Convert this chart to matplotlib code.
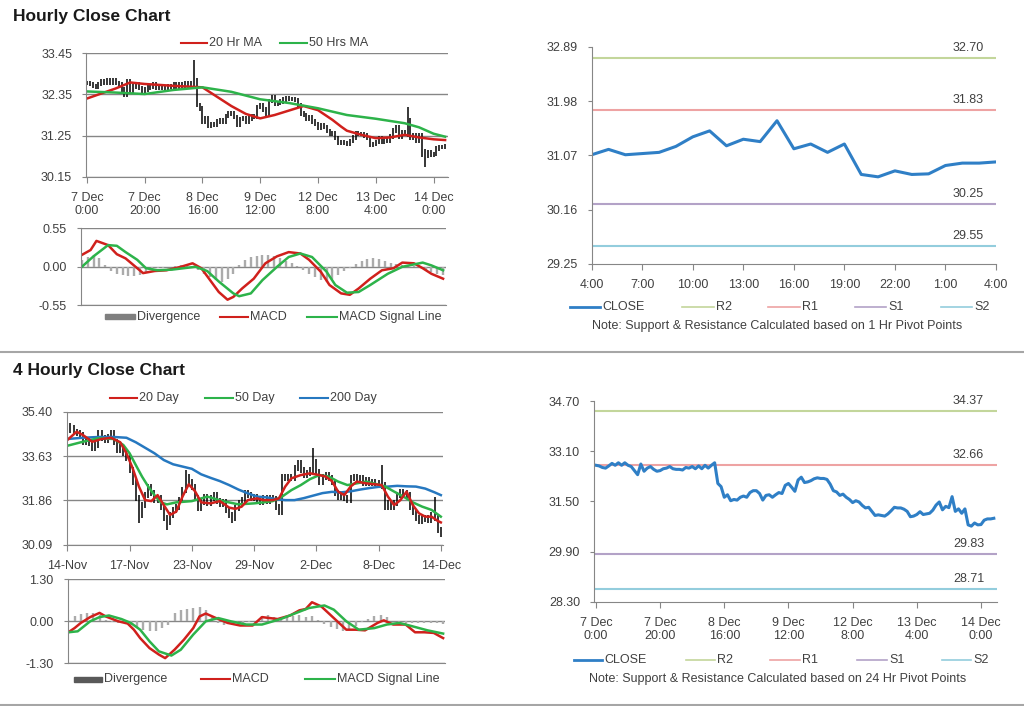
import matplotlib.pyplot as plt
import numpy as np
from matplotlib.lines import Line2D
from matplotlib.patches import Rectangle

plt.rcParams['font.family'] = ['Liberation Sans', 'DejaVu Sans']

# ---------------- data: hourly ----------------
hourly_close = [
    32.65, 32.63, 32.58, 32.56, 32.63, 32.71, 32.65, 32.73, 32.65, 32.73,
    32.65, 32.61, 32.48, 32.35, 32.69, 32.46, 32.56, 32.61, 32.52, 32.46,
    32.48, 32.54, 32.56, 32.61, 32.54, 32.52, 32.52, 32.50, 32.58, 32.56,
    32.61, 32.54, 32.63, 32.54, 32.65, 32.56, 32.65, 32.73, 32.07, 31.97,
    31.63, 31.71, 31.52, 31.56, 31.54, 31.63, 31.67, 31.63, 31.78, 31.84,
    31.84, 31.75, 31.54, 31.69, 31.71, 31.63, 31.71, 31.78, 31.75, 32.01,
    32.07, 31.95, 31.82, 32.18, 32.27, 32.10, 32.12, 32.16, 32.22, 32.25,
    32.23, 32.23, 32.20, 32.05, 31.84, 31.80, 31.69, 31.73, 31.63, 31.56,
    31.46, 31.52, 31.48, 31.37, 31.29, 31.31, 31.18, 31.05, 31.07, 31.05,
    31.03, 31.10, 31.20, 31.31, 31.29, 31.29, 31.25, 31.18, 31.01, 31.03,
    31.08, 31.17, 31.08, 31.10, 31.12, 31.22, 31.38, 31.48, 31.23, 31.34,
    31.30, 31.65, 31.18, 31.26, 31.12, 31.26, 30.75, 30.71, 30.81, 30.75,
    30.76, 30.90, 30.94, 30.94, 30.96,
]
hourly_spike_idx = [37, 111, 117]
hourly_spike_low = [32.50, 31.20, 30.42]
hourly_spike_high = [33.28, 32.02, 30.90]

hourly_ma20_x = [0, 10, 15, 20, 30, 40, 45, 50, 55, 60, 65, 70, 75, 80, 85, 88, 90, 95,
                 100, 105, 110, 115, 120, 124]
hourly_ma20 = [32.24, 32.51, 32.67, 32.63, 32.58, 32.54, 32.29, 32.04, 31.83, 31.71, 31.80,
               31.92, 32.04, 31.93, 31.67, 31.49, 31.38, 31.27, 31.18, 31.20, 31.27, 31.20,
               31.15, 31.13]
hourly_ma50_x = [0, 10, 20, 30, 40, 50, 60, 70, 80, 90, 100, 110, 115, 120, 124]
hourly_ma50 = [32.43, 32.40, 32.36, 32.47, 32.54, 32.42, 32.22, 32.12, 31.98, 31.80, 31.70,
               31.58, 31.47, 31.30, 31.22]

hourly_macd_x = [0, 3, 5, 9, 12, 15, 19, 21, 25, 29, 34, 38, 41, 44, 47, 50, 52, 55, 59, 63,
                 67, 71, 75, 78, 82, 85, 89, 92, 95, 99, 103, 107, 110, 114, 117, 120, 124]
hourly_macd = [0.17, 0.24, 0.37, 0.31, 0.18, 0.12, -0.02, -0.09, -0.06, -0.05,
               0.00, 0.05, -0.02, -0.19, -0.36, -0.47, -0.43, -0.31, -0.17, 0.05,
               0.15, 0.21, 0.19, 0.10, -0.07, -0.26, -0.38, -0.40, -0.31, -0.17,
               -0.05, -0.02, 0.06, 0.05, -0.02, -0.10, -0.17]
hourly_signal_x = [0, 4, 9, 12, 15, 19, 22, 26, 31, 39, 43, 47, 52, 54, 58, 62, 67, 71, 75, 79,
                   84, 87, 91, 95, 99, 105, 110, 117, 120, 124]
hourly_signal = [0.00, 0.15, 0.31, 0.30, 0.21, 0.10, -0.02, -0.05, -0.04, 0.00,
                 -0.06, -0.21, -0.38, -0.42, -0.38, -0.19, 0.00, 0.14, 0.19, 0.14,
                 -0.07, -0.26, -0.37, -0.36, -0.26, -0.10, 0.00, 0.06, 0.02, -0.05]
# divergence, every second bar
hourly_div = [0.10, 0.14, 0.17, 0.12, 0.03, -0.06, -0.10, -0.12, -0.13, -0.13,
              -0.12, -0.08, -0.04, -0.02, -0.01, 0.00, 0.01, 0.02, 0.02, 0.01,
              -0.04, -0.10, -0.15, -0.19, -0.21, -0.18, -0.10, 0.02, 0.10, 0.14,
              0.16, 0.17, 0.17, 0.16, 0.13, 0.09, 0.05, 0.01, -0.04, -0.10,
              -0.15, -0.19, -0.21, -0.18, -0.12, -0.06, -0.01, 0.04, 0.08, 0.11,
              0.12, 0.11, 0.09, 0.06, 0.04, 0.03, 0.02, 0.01, -0.02, -0.05,
              -0.08, -0.10, -0.12]

hourly_labels = ['7 Dec\n0:00', '7 Dec\n20:00', '8 Dec\n16:00', '9 Dec\n12:00',
                 '12 Dec\n8:00', '13 Dec\n4:00', '14 Dec\n0:00']
day_labels = ['4:00', '7:00', '10:00', '13:00', '16:00', '19:00', '22:00', '1:00', '4:00']

pivot_1h = {'R2': 32.70, 'R1': 31.83, 'S1': 30.25, 'S2': 29.55}
pivot_24h = {'R2': 34.37, 'R1': 32.66, 'S1': 29.83, 'S2': 28.71}

# ---------------- data: 4 hourly ----------------
fh_close = [
    34.67, 34.74, 34.60, 34.54, 34.47, 34.20, 34.27, 34.14, 33.94, 34.07,
    34.54, 34.34, 34.27, 34.40, 34.54, 34.20, 33.87, 34.00, 33.74, 33.54,
    33.07, 32.61, 31.94, 31.28, 31.67, 32.07, 32.41, 32.14, 31.87, 31.94,
    31.61, 31.14, 31.01, 31.28, 31.48, 31.61, 31.87, 32.27, 32.81, 32.61,
    32.41, 31.94, 31.54, 31.81, 32.01, 31.74, 31.94, 32.07, 31.83, 31.70,
    31.78, 31.48, 31.28, 31.14, 31.54, 31.74, 31.87, 32.14, 32.07, 31.94,
    32.01, 31.87, 31.78, 31.94, 31.83, 31.97, 31.91, 31.61, 31.41, 32.81,
    32.74, 32.81, 32.74, 33.14, 33.34, 33.07, 32.87, 32.94, 33.07, 33.40,
    33.00, 32.61, 32.81, 32.87, 32.74, 32.61, 32.14, 32.01, 32.07, 31.94,
    31.87, 32.74, 32.81, 32.67, 32.74, 32.54, 32.67, 32.54, 32.61, 32.54,
    32.54, 32.47, 31.61, 31.74, 31.61, 31.74, 32.07, 32.21, 32.14, 32.07,
    31.61, 31.41, 31.14, 31.04, 31.12, 31.14, 31.08, 31.28, 31.14, 30.68,
    30.54,
]
fh_spike_idx = [1, 23, 32, 38, 53, 79, 101, 118, 120]
fh_spike_low = [34.55, 30.95, 30.68, 32.50, 30.95, 33.00, 32.30, 31.10, 30.40]
fh_spike_high = [34.95, 31.90, 31.20, 33.07, 31.40, 33.94, 33.27, 32.01, 30.80]

fh_ma20_x = [0, 3, 5, 8, 11, 14, 17, 19, 21, 23, 25, 27, 29, 31, 33, 35, 37, 39, 41, 43,
             46, 49, 52, 54, 56, 58, 61, 63, 66, 68, 70, 72, 75, 78, 81, 83, 85, 87, 89, 91,
             93, 96, 99, 101, 103, 105, 107, 109, 111, 113, 115, 117, 119, 120]
fh_ma20 = [34.27, 34.60, 34.47, 34.20, 34.31, 34.36, 34.18, 33.74, 33.14, 32.41,
           31.87, 31.83, 32.07, 31.67, 31.28, 31.41, 32.01, 32.50, 32.23, 31.78,
           31.74, 31.83, 31.57, 31.52, 31.61, 31.87, 31.94, 31.87, 31.87, 31.94,
           32.41, 32.74, 32.87, 32.94, 32.87, 32.81, 32.63, 32.21, 32.07, 32.41,
           32.61, 32.54, 32.50, 32.47, 32.01, 31.67, 31.87, 32.21, 31.67, 31.34,
           31.21, 31.21, 31.04, 30.98]
fh_ma50_x = [0, 5, 10, 15, 18, 20, 22, 24, 26, 28, 30, 32, 35, 40, 45, 50, 55, 60, 63, 66,
             69, 72, 75, 78, 81, 84, 87, 90, 93, 96, 99, 102, 105, 108, 111, 114, 117, 120]
fh_ma50 = [34.04, 34.20, 34.34, 34.31, 34.07, 33.74, 33.27, 32.81, 32.41, 32.07,
           31.78, 31.70, 31.78, 31.83, 32.01, 31.83, 31.70, 31.74, 31.78, 31.83,
           32.01, 32.27, 32.47, 32.71, 32.87, 32.81, 32.61, 32.47, 32.54, 32.61,
           32.52, 32.42, 32.21, 32.01, 31.78, 31.61, 31.48, 31.21]
fh_ma200_x = [0, 5, 10, 15, 19, 22, 25, 28, 31, 34, 37, 40, 43, 46, 49, 52, 55, 58, 61, 64,
              67, 70, 73, 76, 79, 82, 85, 88, 91, 94, 97, 100, 103, 106, 109, 112, 115, 118, 120]
fh_ma200 = [34.31, 34.36, 34.39, 34.39, 34.36, 34.18, 33.96, 33.74, 33.47, 33.30,
            33.21, 33.12, 32.90, 32.76, 32.63, 32.47, 32.29, 32.14, 32.01, 31.98,
            31.91, 31.87, 31.87, 31.95, 32.05, 32.15, 32.20, 32.18, 32.22, 32.29,
            32.35, 32.40, 32.41, 32.44, 32.42, 32.41, 32.33, 32.18, 32.07]

fh_macd_x = [0, 2, 4, 7, 10, 12, 16, 19, 21, 23, 26, 29, 31, 34, 37, 40, 42, 44, 48, 51,
             55, 59, 62, 67, 71, 74, 76, 78, 81, 85, 89, 92, 95, 99, 101, 104, 108, 111, 114,
             117, 120]
fh_macd = [-0.34, -0.21, -0.05, 0.13, 0.26, 0.15, 0.00, -0.07, -0.26, -0.52,
           -0.83, -1.03, -1.14, -0.88, -0.57, -0.21, 0.15, 0.24, 0.07, -0.05,
           -0.13, -0.13, 0.13, 0.07, 0.18, 0.34, 0.38, 0.59, 0.46, 0.10,
           -0.26, -0.26, -0.28, -0.05, 0.03, -0.10, -0.10, -0.34, -0.34, -0.36,
           -0.52]
fh_signal_x = [0, 3, 7, 10, 13, 17, 20, 23, 26, 29, 33, 36, 40, 44, 48, 52, 57, 62, 68, 73,
               77, 82, 85, 89, 93, 98, 102, 106, 110, 115, 120]
fh_signal = [-0.34, -0.31, 0.00, 0.13, 0.18, 0.07, -0.05, -0.26, -0.62, -0.93,
             -1.06, -0.88, -0.41, 0.00, 0.10, 0.00, -0.10, -0.10, 0.07, 0.26,
             0.41, 0.49, 0.36, 0.00, -0.26, -0.21, -0.10, -0.05, -0.15, -0.28,
             -0.38]
fh_div = [0.05, 0.15, 0.22, 0.26, 0.25, 0.18, 0.05, -0.02, -0.05, -0.06,
          -0.12, -0.20, -0.27, -0.31, -0.30, -0.22, -0.10, 0.25, 0.35, 0.38,
          0.40, 0.45, 0.35, 0.12, -0.05, -0.10, -0.08, -0.05, -0.04, -0.03,
          0.00, 0.15, 0.18, 0.12, 0.10, 0.12, 0.15, 0.18, 0.12, 0.15,
          0.05, -0.08, -0.18, -0.25, -0.30, -0.28, -0.15, -0.02, 0.08, 0.15,
          0.18, 0.12, 0.00, -0.04, -0.04, -0.06, -0.06, -0.05, -0.04, -0.04,
          -0.08]
fh_labels = ['14-Nov', '17-Nov', '23-Nov', '29-Nov', '2-Dec', '8-Dec', '14-Dec']

# ---------------- style ----------------
W, H = 1024, 706
TXT = '#404040'
AXC = '#868686'
RED = '#d0201c'
GREEN = '#2db34a'
BLUE = '#2678c0'
CLOSE_C = '#2f7fc6'
PIV_C = {'R2': '#c3d69b', 'R1': '#eea3a3', 'S1': '#b3a2c7', 'S2': '#93cddd'}
FS = 9

fig = plt.figure(figsize=(W / 100, H / 100), dpi=100)


def px_axes(l, t, r, b):
    return fig.add_axes([l / W, 1 - b / H, (r - l) / W, (b - t) / H])


def style(ax, yticks, grid=True):
    for s in ['top', 'right']:
        ax.spines[s].set_visible(False)
    for s in ['left', 'bottom']:
        ax.spines[s].set_color(AXC)
    ax.set_yticks(yticks)
    ax.set_yticklabels(['%.2f' % v for v in yticks])
    ax.set_ylim(yticks[0], yticks[-1])
    ax.tick_params(axis='y', length=3, pad=7, color=AXC, labelcolor=TXT, labelsize=FS)
    ax.tick_params(axis='x', length=4, pad=7, color=AXC, labelcolor=TXT, labelsize=FS)
    if grid:
        ax.yaxis.grid(True, color=AXC, lw=1)
        ax.set_axisbelow(True)


def draw_bars(ax, close, pad, sidx, slow, shigh):
    close = np.array(close)
    x = np.arange(len(close))
    prev = np.r_[close[0], close[:-1]]
    lo = np.minimum(prev, close) - pad
    hi = np.maximum(prev, close) + pad
    for i, l, h in zip(sidx, slow, shigh):
        lo[i] = min(lo[i], l)
        hi[i] = max(hi[i], h)
    ax.vlines(x, lo, hi, color='black', lw=1.1)


def legend_row(y, items):
    fy = 1 - y / H
    for kind, x0, x1, color, label in items:
        if kind == 'rect':
            fig.add_artist(Rectangle((x0 / W, 1 - (y + 2.5) / H), (x1 - x0) / W, 5 / H,
                                     color=color, transform=fig.transFigure))
        else:
            fig.add_artist(Line2D([x0 / W, x1 / W], [fy, fy], color=color, lw=kind,
                                  transform=fig.transFigure))
        fig.text((x1 + 2) / W, fy, label, ha='left', va='center', fontsize=FS, color=TXT)


def macd_panel(ax, xlim, yl, div, mx, m, sx, s):
    dx = np.arange(len(div)) * 2
    ax.vlines(dx, 0, div, color='#ababab', lw=1.7)
    ax.plot(mx, m, color=RED, lw=1.8)
    ax.plot(sx, s, color=GREEN, lw=1.8)
    style(ax, [-yl, 0.0, yl])
    ax.set_xlim(*xlim)
    ax.set_xticks([])


def pivot_panel(ax, x, y, piv, xlim):
    for k in ['R2', 'R1', 'S1', 'S2']:
        ax.axhline(piv[k], color=PIV_C[k], lw=1.5)
        ax.annotate('%.2f' % piv[k], xy=(0.93, piv[k]), xycoords=('axes fraction', 'data'),
                    xytext=(0, 3), textcoords='offset points', ha='center', va='bottom',
                    fontsize=FS, color=TXT)
    ax.plot(x, y, color=CLOSE_C, lw=2.2)
    ax.set_xlim(*xlim)


# ---------------- titles & separators ----------------
fig.text(13 / W, 1 - 16 / H, 'Hourly Close Chart', fontsize=12.5, fontweight='bold',
         color='#1a1a1a', va='center')
fig.text(13 / W, 1 - 370 / H, '4 Hourly Close Chart', fontsize=12.5, fontweight='bold',
         color='#1a1a1a', va='center')
for yy in [352, 704.5]:
    fig.add_artist(Line2D([0, 1], [1 - yy / H] * 2, color='#a6a6a6', lw=1.5,
                          transform=fig.transFigure))

# ---------------- hourly price ----------------
ax = px_axes(86, 53.3, 448, 176.7)
draw_bars(ax, hourly_close, 0.06, hourly_spike_idx, hourly_spike_low, hourly_spike_high)
ax.plot(hourly_ma20_x, hourly_ma20, color=RED, lw=1.8)
ax.plot(hourly_ma50_x, hourly_ma50, color=GREEN, lw=1.8)
style(ax, [30.15, 31.25, 32.35, 33.45])
ax.set_xlim(-0.3, 125)
ax.set_xticks(range(0, 121, 20))
ax.set_xticklabels(hourly_labels, linespacing=1.1)
legend_row(43, [(1.5, 181, 207, RED, '20 Hr MA'), (1.5, 280, 307, GREEN, '50 Hrs MA')])

ax = px_axes(81, 228.3, 446, 305.3)
macd_panel(ax, (-0.3, 125), 0.55, hourly_div, hourly_macd_x, hourly_macd,
           hourly_signal_x, hourly_signal)
legend_row(316.7, [('rect', 105, 135, '#7f7f7f', 'Divergence'),
                   (1.5, 220, 248, RED, 'MACD'),
                   (1.5, 307, 337, GREEN, 'MACD Signal Line')])

# ---------------- 1 hr pivots ----------------
ax = px_axes(591.7, 46.7, 996, 264)
last = hourly_close[-25:]
pivot_panel(ax, range(len(last)), last, pivot_1h, (0, 24))
style(ax, [29.25, 30.16, 31.07, 31.98, 32.89], grid=False)
ax.set_xticks(range(0, 25, 3))
ax.set_xticklabels(day_labels)
legend_row(306.7, [(2, 570, 600, CLOSE_C, 'CLOSE'), (1.2, 682, 714, PIV_C['R2'], 'R2'),
                   (1.2, 768, 800, PIV_C['R1'], 'R1'), (1.2, 855, 886, PIV_C['S1'], 'S1'),
                   (1.2, 941, 972, PIV_C['S2'], 'S2')])
fig.text(777 / W, 1 - 326 / H, 'Note: Support & Resistance Calculated based on 1 Hr Pivot Points',
         ha='center', va='center', fontsize=FS, color=TXT)

# ---------------- 4 hourly price ----------------
ax = px_axes(66.7, 411.7, 442.7, 544.7)
draw_bars(ax, fh_close, 0.12, fh_spike_idx, fh_spike_low, fh_spike_high)
ax.plot(fh_ma200_x, fh_ma200, color=BLUE, lw=1.8)
ax.plot(fh_ma50_x, fh_ma50, color=GREEN, lw=1.8)
ax.plot(fh_ma20_x, fh_ma20, color=RED, lw=1.8)
style(ax, [30.09, 31.86, 33.63, 35.40])
ax.set_xlim(-0.2, 120.6)
ax.set_xticks(range(0, 121, 20))
ax.set_xticklabels(fh_labels)
legend_row(398.3, [(1.5, 110, 137, RED, '20 Day'), (1.5, 205, 233, GREEN, '50 Day'),
                   (1.5, 300, 328, BLUE, '200 Day')])

ax = px_axes(67.7, 579.3, 445, 663.3)
macd_panel(ax, (-0.2, 120.6), 1.30, fh_div, fh_macd_x, fh_macd, fh_signal_x, fh_signal)
legend_row(679, [('rect', 74, 102, '#595959', 'Divergence'),
                 (1.5, 201, 230, RED, 'MACD'),
                 (1.5, 305, 335, GREEN, 'MACD Signal Line')])

# ---------------- 24 hr pivots ----------------
ax = px_axes(594, 401, 996.7, 601.7)
pivot_panel(ax, range(len(hourly_close)), hourly_close, pivot_24h, (-0.6, 124.9))
style(ax, [28.30, 29.90, 31.50, 33.10, 34.70], grid=False)
ax.set_xticks(range(0, 121, 20))
ax.set_xticklabels(hourly_labels, linespacing=1.1)
legend_row(660, [(2, 574, 602, CLOSE_C, 'CLOSE'), (1.2, 686, 715, PIV_C['R2'], 'R2'),
                 (1.2, 770, 800, PIV_C['R1'], 'R1'), (1.2, 857, 887, PIV_C['S1'], 'S1'),
                 (1.2, 942, 971, PIV_C['S2'], 'S2')])
fig.text(778 / W, 1 - 679 / H, 'Note: Support & Resistance Calculated based on 24 Hr Pivot Points',
         ha='center', va='center', fontsize=FS, color=TXT)

fig.savefig('out.png', dpi=100)
